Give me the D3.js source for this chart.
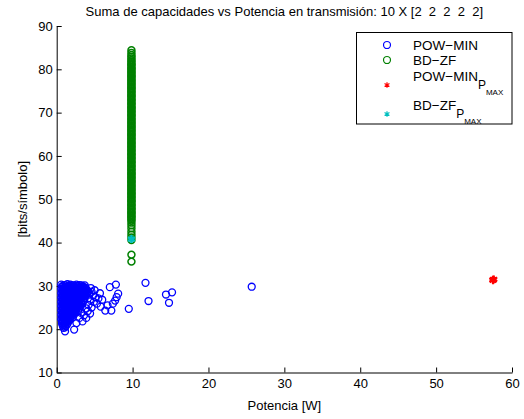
<!DOCTYPE html>
<html>
<head>
<meta charset="utf-8">
<script src="https://cdn.jsdelivr.net/npm/d3@7"></script>
<style>
  body { margin: 0; background: #fff; }
  svg { display: block; font-family: "Liberation Sans", Arial, Helvetica, sans-serif; }
  .axis path, .axis line { stroke: #000; stroke-width: 1; }
  .axis text { font-size: 13px; fill: #000; }
</style>
</head>
<body>
<div id="chart"></div>
<script>
// Data
const titleText = "Suma de capacidades vs Potencia en transmisión: 10 X [2  2  2  2  2]";
const xTicks = [0, 10, 20, 30, 40, 50, 60];
const yTicks = [10, 20, 30, 40, 50, 60, 70, 80, 90];

// POW-MIN: [potencia, capacidad]
const powMinRaw =
  "0.6,30.3 1.0,30.2 1.4,30.4 1.8,30.3 2.2,30.1 2.6,30.3 3.0,30.2 " +
  "0.7,29.8 1.1,29.7 1.5,29.9 1.9,29.8 2.3,29.6 2.7,29.9 3.1,29.7 3.5,29.8 3.8,29.6 " +
  "0.6,29.3 1.0,29.2 1.4,29.4 1.8,29.3 2.2,29.2 2.6,29.4 3.0,29.3 3.4,29.1 3.8,29.3 4.0,29.0 " +
  "0.7,28.8 1.1,28.9 1.5,28.7 1.9,28.8 2.3,28.9 2.7,28.7 3.1,28.8 3.5,28.6 3.9,28.9 4.2,28.7 " +
  "0.6,28.3 1.0,28.2 1.4,28.4 1.8,28.3 2.2,28.2 2.6,28.4 3.0,28.3 3.4,28.1 3.8,28.3 4.0,28.4 " +
  "0.7,27.8 1.1,27.7 1.5,27.9 1.9,27.8 2.3,27.6 2.7,27.8 3.1,27.9 3.5,27.7 3.8,27.8 " +
  "0.6,27.3 1.0,27.4 1.4,27.2 1.8,27.3 2.2,27.4 2.6,27.2 3.0,27.3 3.4,27.4 3.7,27.2 " +
  "0.7,26.8 1.1,26.7 1.5,26.9 1.9,26.8 2.3,26.7 2.7,26.9 3.1,26.8 3.6,26.7 " +
  "0.6,26.3 1.0,26.4 1.4,26.2 1.8,26.3 2.2,26.4 2.6,26.2 3.0,26.3 3.5,26.4 " +
  "0.7,25.8 1.1,25.7 1.5,25.9 1.9,25.8 2.3,25.7 2.7,25.9 3.0,25.8 3.3,25.7 " +
  "0.6,25.3 1.0,25.4 1.4,25.2 1.8,25.3 2.2,25.4 2.6,25.2 3.1,25.3 " +
  "0.7,24.8 1.1,24.7 1.5,24.9 1.9,24.8 2.3,24.7 2.7,24.9 3.0,24.8 " +
  "0.6,24.3 1.0,24.4 1.4,24.2 1.8,24.3 2.2,24.4 2.5,24.2 2.8,24.3 " +
  "0.7,23.8 1.1,23.7 1.5,23.9 1.9,23.8 2.2,23.7 2.5,23.9 " +
  "0.6,23.3 1.0,23.4 1.4,23.2 1.8,23.3 2.3,23.4 " +
  "0.7,22.8 1.1,22.7 1.5,22.9 1.8,22.8 2.1,22.7 " +
  "0.6,22.3 1.0,22.4 1.4,22.2 1.8,22.3 " +
  "0.7,21.8 1.1,21.7 1.4,21.9 1.6,21.8 " +
  "0.7,21.3 1.0,21.4 1.4,21.2 0.8,20.8 1.2,20.7 0.9,20.3 1.1,20.4 " +
  "0.8,30.0 1.2,30.1 1.6,30.0 2.0,30.1 2.4,29.9 2.8,30.0 3.3,30.1 " +
  "0.9,29.5 1.3,29.6 1.7,29.5 2.1,29.6 2.5,29.5 2.9,29.6 3.3,29.5 3.6,29.4 " +
  "0.8,29.0 1.2,29.1 1.6,29.0 2.0,29.1 2.4,29.0 2.8,29.1 3.2,29.0 3.6,29.1 " +
  "0.9,28.5 1.3,28.6 1.7,28.5 2.1,28.6 2.5,28.5 2.9,28.6 3.3,28.5 3.7,28.5 " +
  "0.8,28.0 1.2,28.1 1.6,28.0 2.0,28.1 2.4,28.0 2.8,28.1 3.2,28.0 3.6,28.0 " +
  "0.9,27.5 1.3,27.6 1.7,27.5 2.1,27.6 2.5,27.5 2.9,27.6 3.3,27.5 " +
  "0.8,27.0 1.2,27.1 1.6,27.0 2.0,27.1 2.4,27.0 2.8,27.1 3.2,27.0 " +
  "0.9,26.5 1.3,26.6 1.7,26.5 2.1,26.6 2.5,26.5 2.9,26.6 3.3,26.5 " +
  "0.8,26.0 1.2,26.1 1.6,26.0 2.0,26.1 2.4,26.0 2.8,26.1 3.2,26.0 " +
  "0.9,25.5 1.3,25.6 1.7,25.5 2.1,25.6 2.5,25.5 2.9,25.6 " +
  "0.8,25.0 1.2,25.1 1.6,25.0 2.0,25.1 2.4,25.0 2.8,25.1 " +
  "0.9,24.5 1.3,24.6 1.7,24.5 2.1,24.6 2.5,24.5 " +
  "0.8,24.0 1.2,24.1 1.6,24.0 2.0,24.1 2.4,24.0 " +
  "0.9,23.5 1.3,23.6 1.7,23.5 2.0,23.6 0.8,23.0 1.2,23.1 1.6,23.0 2.0,23.1 " +
  "0.9,22.5 1.3,22.6 1.6,22.5 0.8,22.0 1.2,22.1 1.5,22.0 0.9,21.5 1.2,21.6 0.9,21.0 1.1,21.1 " +
  "1.1,19.5 2.3,19.9 " +
  "3.7,30.1 4.5,29.5 5.0,29.0 4.4,26.8 4.2,25.6 4.6,25.0 4.4,23.6 3.9,22.6 3.4,21.8 3.0,22.6 2.6,21.4 " +
  "4.3,28.0 4.6,28.6 4.9,26.3 5.1,27.4 3.9,24.8 4.1,24.2 5.8,25.2 3.6,23.2 3.2,23.8 " +
  "4.8,27.8 5.3,25.9 5.7,28.3 6.0,26.8 5.5,27.1 6.4,24.3 6.7,25.5 7.0,29.7 7.2,24.3 7.4,25.9 " +
  "7.7,26.6 7.9,27.4 7.8,30.3 8.1,28.2 " +
  "9.5,24.7 11.7,30.7 12.1,26.5 14.4,28.0 15.2,28.5 14.8,26.1 25.7,29.8";
const powMin = powMinRaw.trim().split(/\s+/).map(s => s.split(",").map(Number));

// BD-ZF: all at the same power, capacities listed
const bdzfPower = 9.85;
const bdzfCap = [
  35.6, 37.2, 40.6, 41.2, 41.8, 42.5, 43.3, 44.0, 44.6,
  45.1, 45.4, 45.8, 46.0, 46.3, 46.7, 46.9, 47.2, 47.6, 47.8, 48.1, 48.5, 48.7, 49.0, 49.4, 49.6, 49.9,
  50.3, 50.5, 50.8, 51.2, 51.4, 51.7, 52.1, 52.3, 52.6, 53.0, 53.2, 53.5, 53.9, 54.1, 54.4, 54.8,
  55.0, 55.3, 55.7, 55.9, 56.2, 56.6, 56.8, 57.1, 57.5, 57.7, 58.0, 58.4, 58.6, 58.9, 59.3, 59.5, 59.8,
  60.2, 60.4, 60.7, 61.1, 61.3, 61.6, 62.0, 62.2, 62.5, 62.9, 63.1, 63.4, 63.8, 64.0, 64.3, 64.7, 64.9,
  65.2, 65.6, 65.8, 66.1, 66.5, 66.7, 67.0, 67.4, 67.6, 67.9, 68.3, 68.5, 68.8, 69.2, 69.4, 69.7,
  70.1, 70.3, 70.6, 71.0, 71.2, 71.5, 71.9, 72.1, 72.4, 72.8, 73.0, 73.3, 73.7, 73.9, 74.2, 74.6, 74.8,
  75.1, 75.5, 75.7, 76.0, 76.4, 76.6, 76.9, 77.3, 77.5, 77.8, 78.2, 78.4, 78.7, 79.1, 79.3, 79.6,
  80.0, 80.2, 80.5, 80.9, 81.1, 81.4, 81.8, 82.1, 82.5, 82.9, 83.3, 83.8, 84.4
];

// maximum points
const powMinMax = [[57.5, 31.3], [57.6, 31.5], [57.5, 31.4]];
const bdzfMax = [[9.85, 40.8]];

const legendItems = [
  {label: "POW\u2212MIN", sub: null, color: "#0000ff", sym: "circle"},
  {label: "BD\u2212ZF", sub: null, color: "#008000", sym: "circle"},
  {label: "POW\u2212MIN", sub: "P", subsub: "MAX", color: "#ff0000", sym: "star"},
  {label: "BD\u2212ZF", sub: "P", subsub: "MAX", color: "#00bfbf", sym: "star"}
];

const W = 524, H = 419;
const plot = {left: 56.7, right: 512, top: 26, bottom: 372.5};

const svg = d3.select("#chart").append("svg")
    .attr("width", W)
    .attr("height", H);

const x = d3.scaleLinear().domain([0, 60]).range([plot.left, plot.right]);
const y = d3.scaleLinear().domain([10, 90]).range([plot.bottom, plot.top]);

// axes (MATLAB style: ticks inward, no box)
svg.append("g")
    .attr("class", "axis")
    .attr("transform", `translate(0,${plot.bottom})`)
    .call(d3.axisBottom(x).tickValues(xTicks).tickSizeInner(-5).tickSizeOuter(0).tickPadding(4))
    .selectAll("text").attr("dy", "0.9em");

svg.append("g")
    .attr("class", "axis")
    .attr("transform", `translate(${plot.left},0)`)
    .call(d3.axisLeft(y).tickValues(yTicks).tickSizeInner(-5).tickSizeOuter(0).tickPadding(4));

const circle = d3.symbol().type(d3.symbolCircle).size(38);
const star = d3.symbol().type(d3.symbolAsterisk).size(44);

svg.append("g").selectAll("path")
    .data(powMin)
    .enter().append("path")
    .attr("transform", d => `translate(${x(d[0])},${y(d[1])})`)
    .attr("d", circle)
    .attr("fill", "none")
    .attr("stroke", "#0000ff")
    .attr("stroke-width", 1.3);

svg.append("g").selectAll("path")
    .data(bdzfCap)
    .enter().append("path")
    .attr("transform", d => `translate(${x(bdzfPower)},${y(d)})`)
    .attr("d", circle)
    .attr("fill", "none")
    .attr("stroke", "#008000")
    .attr("stroke-width", 1.5);

svg.append("g").selectAll("path")
    .data(powMinMax)
    .enter().append("path")
    .attr("transform", d => `translate(${x(d[0])},${y(d[1])})`)
    .attr("d", star)
    .attr("fill", "none")
    .attr("stroke", "#ff0000")
    .attr("stroke-width", 2.2);

svg.append("g").selectAll("path")
    .data(bdzfMax)
    .enter().append("path")
    .attr("transform", d => `translate(${x(d[0])},${y(d[1])})`)
    .attr("d", star)
    .attr("fill", "none")
    .attr("stroke", "#00bfbf")
    .attr("stroke-width", 2.5);

// title and labels
svg.append("text")
    .attr("x", (plot.left + plot.right) / 2)
    .attr("y", 16)
    .attr("text-anchor", "middle")
    .style("font-size", "13px")
    .style("white-space", "pre")
    .text(titleText);

svg.append("text")
    .attr("x", (plot.left + plot.right) / 2)
    .attr("y", 410)
    .attr("text-anchor", "middle")
    .style("font-size", "13px")
    .text("Potencia [W]");

svg.append("text")
    .attr("transform", `translate(27,${(plot.top + plot.bottom) / 2}) rotate(-90)`)
    .attr("text-anchor", "middle")
    .style("font-size", "13px")
    .text("[bits/símbolo]");

// legend
const legend = svg.append("g");
legend.append("rect")
    .attr("x", 356.5).attr("y", 32.5)
    .attr("width", 155.5).attr("height", 91.5)
    .attr("fill", "#fff").attr("stroke", "#000");

const legendY = [45, 60, 85, 114];
const smallStar = d3.symbol().type(d3.symbolAsterisk).size(22);
legendItems.forEach((it, i) => {
    const g = legend.append("g").attr("transform", `translate(0,${legendY[i]})`);
    g.append("path")
        .attr("transform", "translate(387,0)")
        .attr("d", it.sym === "circle" ? circle : smallStar)
        .attr("fill", "none")
        .attr("stroke", it.color)
        .attr("stroke-width", 1.2);
    const t = g.append("text")
        .attr("x", 413)
        .attr("y", it.sub ? -4 : 5)
        .style("font-size", "13.5px")
        .text(it.label);
    if (it.sub) {
        t.append("tspan").attr("dy", 8).style("font-size", "12px").text(it.sub);
        t.append("tspan").attr("dy", 6).style("font-size", "8px").text(it.subsub);
    }
});
</script>
</body>
</html>
